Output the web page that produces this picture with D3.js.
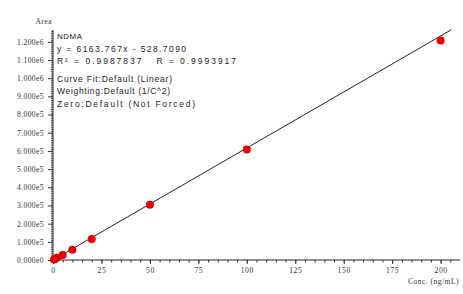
<!DOCTYPE html>
<html><head><meta charset="utf-8">
<script src="https://cdn.jsdelivr.net/npm/d3@7"></script>
<style>body{margin:0;background:#fff}svg{display:block}</style>
</head><body>
<svg id="c" width="463" height="294"></svg>
<script>
const conc = [0.5, 1, 2, 5, 10, 20, 50, 100, 200];
const area = [2500, 5800, 12000, 28000, 57000, 115000, 304000, 608000, 1207000];
const slope = 6163.767, intercept = -528.7090;
const yMajorTicks = d3.range(0, 1200001, 100000);
const xMajorTicks = [0, 25, 50, 75, 100, 125, 150, 175, 200];
const infoLines = ["NDMA", "y = 6163.767x - 528.7090", "R\u00B2 = 0.9987837   R = 0.9993917",
  "Curve Fit:Default (Linear)", "Weighting:Default (1/C^2)", "Zero:Default (Not Forced)"];

const svg = d3.select("#c");
const x = d3.scaleLinear().domain([0, 210]).range([53, 460]);
const y = d3.scaleLinear().domain([0, 1265000]).range([260, 30]);

const tickFont = "'Liberation Serif', serif";
// minor y ticks
svg.append("g").attr("transform","translate(53,0)")
  .call(d3.axisLeft(y).tickValues(d3.range(0, 1260001, 10000)).tickSize(2).tickFormat(""))
  .call(g=>g.select(".domain").remove())
  .call(g=>g.selectAll("line").attr("stroke","#333").attr("stroke-width",0.8));
const yAx = svg.append("g").attr("transform","translate(53,0)")
  .call(d3.axisLeft(y).tickValues(yMajorTicks).tickSize(5).tickPadding(4)
    .tickFormat(d=>d.toExponential(3).replace("e+","e")));
yAx.select(".domain").attr("d","M0,"+y(0)+"V"+y(1265000)).attr("stroke","#222");
yAx.selectAll("text").attr("font-family",tickFont).attr("font-size",7.6).attr("fill","#333").attr("letter-spacing",0.4);
yAx.selectAll("line").attr("stroke","#333");

// x minor
svg.append("g").attr("transform","translate(0,260)")
  .call(d3.axisBottom(x).tickValues(d3.range(0, 210, 5)).tickSize(2.5).tickFormat(""))
  .call(g=>g.select(".domain").remove())
  .call(g=>g.selectAll("line").attr("stroke","#333"));
const xAx = svg.append("g").attr("transform","translate(0,260)")
  .call(d3.axisBottom(x).tickValues(xMajorTicks).tickSize(4).tickPadding(4).tickFormat(d3.format("d")));
xAx.select(".domain").attr("d","M"+x(0)+",0H"+x(210)).attr("stroke","#222");
xAx.selectAll("text").attr("font-family",tickFont).attr("font-size",7.6).attr("fill","#333").attr("letter-spacing",0.6);
xAx.selectAll("line").attr("stroke","#333");

svg.append("text").attr("x",52).attr("y",24).attr("text-anchor","end")
  .attr("font-family",tickFont).attr("font-size",7.5).attr("fill","#333").attr("letter-spacing",0.5).text("Area");
svg.append("text").attr("x",459).attr("y",284).attr("text-anchor","end")
  .attr("font-family",tickFont).attr("font-size",7.5).attr("fill","#333").attr("letter-spacing",0.5).text("Conc. (ng/mL)");

// regression line
const xEnd = (y.domain()[1] - intercept) / slope;
svg.append("line")
  .attr("x1", x(0)).attr("y1", y(Math.max(0, intercept)))
  .attr("x2", x(xEnd)).attr("y2", y(slope*xEnd+intercept))
  .attr("stroke","#222").attr("stroke-width",1);

// points
svg.append("g").selectAll("circle").data(conc).join("circle")
  .attr("cx",(d)=>x(d)).attr("cy",(d,i)=>y(area[i])).attr("r",4).attr("fill","#e80000");

// info text
const lineY = [39, 52, 64, 82, 94, 107];
const lineW = [25, 129, 179, 115, 113, 138];
const lineFs = [8, 8.5, 8.5, 8.5, 8.5, 8.5];
svg.append("g").selectAll("text").data(infoLines).join("text")
  .attr("x",57).attr("y",(d,i)=>lineY[i])
  .attr("font-family","'Liberation Sans', sans-serif").attr("font-size",(d,i)=>lineFs[i]).attr("fill","#222")
  .attr("textLength",(d,i)=>lineW[i]).attr("lengthAdjust","spacing")
  .style("white-space","pre")
  .text(d=>d);
</script>
</body></html>
